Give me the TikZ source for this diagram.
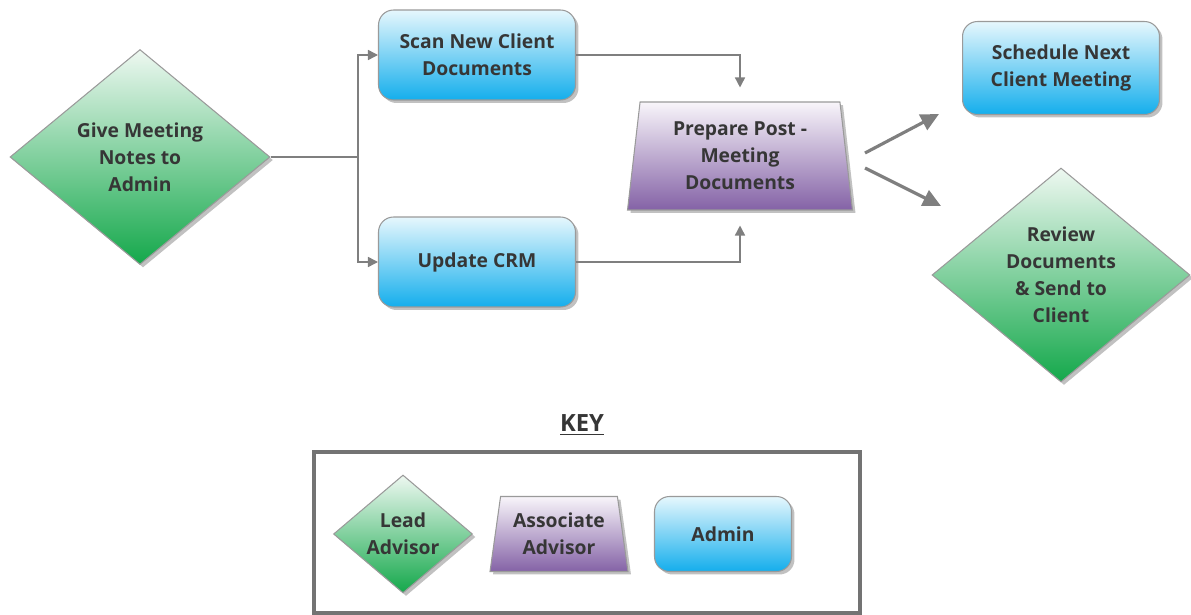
\documentclass[tikz,border=0pt]{standalone}
\usepackage{fontspec}
\setmainfont{Open Sans}
\usepackage{tikz}
\usetikzlibrary{shapes.geometric,shadows,positioning}
\usetikzlibrary{arrows.meta}

\definecolor{leadtop}{HTML}{EEF8F1}
\definecolor{leadbot}{HTML}{14A84B}
\definecolor{assoctop}{HTML}{F8F5FA}
\definecolor{assocbot}{HTML}{8462A6}
\definecolor{admintop}{HTML}{E6F7FD}
\definecolor{adminbot}{HTML}{14AEEC}
\definecolor{rim}{HTML}{9A9A9A}
\definecolor{wire}{HTML}{7F7F7F}
\definecolor{ink}{HTML}{363636}

\tikzset{
  shade/.style={drop shadow={shadow xshift=0.06cm, shadow yshift=-0.06cm,
      opacity=0.35, fill=black!70}},
  card/.style={draw=rim, line width=0.6pt, inner sep=0pt, align=center,
    text=ink, font=\fontsize{11}{15.3}\selectfont\bfseries, shade},
  lead/.style={card, diamond, top color=leadtop, bottom color=leadbot},
  assoc/.style={card, trapezium, trapezium stretches body,
    top color=assoctop, bottom color=assocbot},
  admin/.style={card, rectangle, rounded corners=0.3cm,
    top color=admintop, bottom color=adminbot},
  wire/.style={draw=wire, line width=0.85pt},
  tip/.style={wire, -{Triangle[length=0.2cm, width=0.2cm]}},
  bigtip/.style={draw=wire, line width=1.8pt,
    -{Triangle[length=0.36cm, width=0.34cm]}},
}

\begin{document}
\begin{tikzpicture}[x=0.02cm, y=-0.02cm]
  \useasboundingbox (0,0) rectangle (1191,615);%

  % flow
  \node[lead, minimum width=5.2cm, minimum height=4.3cm] (give) at (140,157)
    {Give Meeting\\Notes to\\Admin};%
  \node[admin, minimum width=3.94cm, minimum height=1.8cm] (scan) at (477,55)
    {Scan New Client\\Documents};%
  \node[admin, minimum width=3.94cm, minimum height=1.8cm] (crm) at (477,262)
    {Update CRM};%
  \node[assoc, trapezium angle=79.5, minimum width=4.5cm, minimum height=2.16cm]
    (prep) at (740,156) {Prepare Post -\\Meeting\\Documents};%
  \node[admin, minimum width=3.94cm, minimum height=1.86cm] (sched) at (1061,68)
    {Schedule Next\\Client Meeting};%
  \node[lead, minimum width=5.16cm, minimum height=4.28cm] (review) at (1061,275)
    {Review\\Documents\\\& Send to\\Client};%

  % fork to the admin tasks
  \coordinate (fork) at (358,157);%
  \draw[wire] (give.east) -- (fork);%
  \draw[tip] (fork) |- (scan.west);%
  \draw[tip] (fork) |- (crm.west);%
  \draw[tip, shorten >=0.28cm] (scan.east) -| (prep.north);%
  \draw[tip, shorten >=0.3cm] (crm.east) -| (prep.south);%

  % outputs
  \coordinate (outa) at (865,153);%
  \coordinate (ina) at (939,114);%
  \coordinate (outb) at (865,168);%
  \coordinate (inb) at (941,206);%
  \draw[bigtip] (outa) -- (ina);%
  \draw[bigtip] (outb) -- (inb);%

  % key
  \node[text=ink, font=\fontsize{13.5}{16}\selectfont\bfseries] (key) at (582,425)
    {\underline{KEY}};%
  \draw[draw=black!55, line width=2.2pt] (314,452) rectangle (860,613);%
  \node[lead, minimum width=2.78cm, minimum height=2.36cm] (klead) at (403,534)
    {Lead\\Advisor};%
  \node[assoc, trapezium angle=75.8, minimum width=2.76cm, minimum height=1.5cm]
    (kassoc) at (559,534) {Associate\\Advisor};%
  \node[admin, minimum width=2.74cm, minimum height=1.5cm] (kadmin) at (723,534)
    {Admin};%
\end{tikzpicture}
\end{document}
